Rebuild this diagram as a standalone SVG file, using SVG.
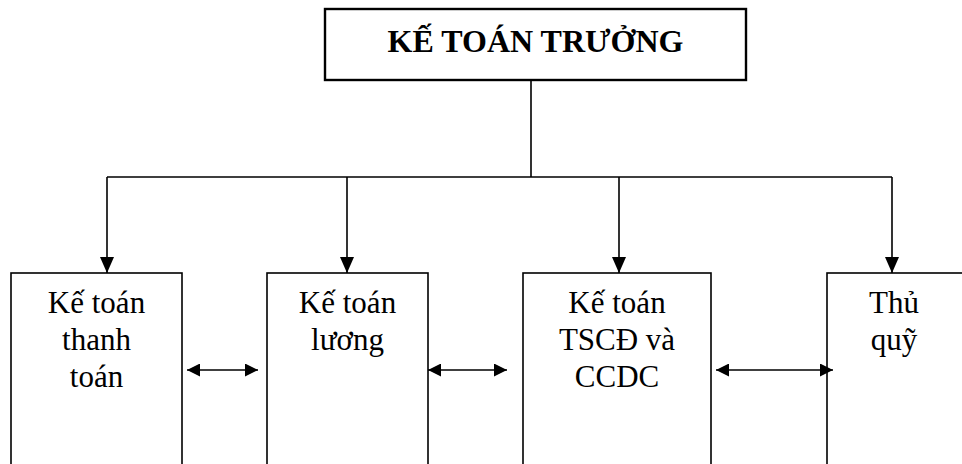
<svg xmlns="http://www.w3.org/2000/svg" width="962" height="464" viewBox="0 0 962 464">
  <style>
    .box { fill: #fff; stroke: #000; stroke-width: 1.6; }
    .head { fill: #fff; stroke: #000; stroke-width: 2.4; }
    .wire { fill: none; stroke: #000; stroke-width: 1.6; }
    .lbl { font-family: 'Liberation Serif', 'Times New Roman', Tinos, 'DejaVu Serif', serif; font-size: 31px; fill: #000; text-anchor: middle; }
    .title { font-weight: bold; font-size: 32px; }
  </style>
  <defs>
    <!-- arrowhead for the drops from the chief box -->
    <marker id="down" markerUnits="userSpaceOnUse" viewBox="0 0 16 14" markerWidth="16" markerHeight="14" refX="16" refY="7" orient="auto">
      <path d="M0,0 L16,7 L0,14 Z" fill="#000"/>
    </marker>
    <!-- arrowhead for the two-way links between staff boxes -->
    <marker id="side" markerUnits="userSpaceOnUse" viewBox="0 0 13 13" markerWidth="13" markerHeight="13" refX="13" refY="6.5" orient="auto-start-reverse">
      <path d="M0,0 L13,6.5 L0,13 Z" fill="#000"/>
    </marker>
  </defs>

  <g id="ke-toan-truong">
    <rect class="head" x="325" y="9" width="421" height="71"/>
    <text class="lbl title" x="535.5" y="52">KẾ TOÁN TRƯỞNG</text>
  </g>

  <g id="ke-toan-thanh-toan">
    <rect class="box" x="11" y="273" width="171" height="200"/>
    <text class="lbl" x="96.5" y="313">Kế toán</text>
    <text class="lbl" x="96.5" y="350">thanh</text>
    <text class="lbl" x="96.5" y="387">toán</text>
  </g>

  <g id="ke-toan-luong">
    <rect class="box" x="267" y="273" width="161" height="200"/>
    <text class="lbl" x="347.5" y="313">Kế toán</text>
    <text class="lbl" x="347.5" y="350">lương</text>
  </g>

  <g id="ke-toan-tscd">
    <rect class="box" x="523" y="273" width="188" height="200"/>
    <text class="lbl" x="617" y="313">Kế toán</text>
    <text class="lbl" x="617" y="350">TSCĐ và</text>
    <text class="lbl" x="617" y="387">CCDC</text>
  </g>

  <g id="thu-quy">
    <rect class="box" x="827" y="273" width="160" height="200"/>
    <text class="lbl" x="894" y="313">Thủ</text>
    <text class="lbl" x="894" y="350">quỹ</text>
  </g>

  <g id="connectors">
    <path class="wire" d="M531,80 V177 M107,177 H892"/>
    <path class="wire" d="M107,177 V273" marker-end="url(#down)"/>
    <path class="wire" d="M347,177 V273" marker-end="url(#down)"/>
    <path class="wire" d="M619,177 V273" marker-end="url(#down)"/>
    <path class="wire" d="M892,177 V273" marker-end="url(#down)"/>
    <path class="wire" d="M187,370 H258" marker-start="url(#side)" marker-end="url(#side)"/>
    <path class="wire" d="M428,370 H507" marker-start="url(#side)" marker-end="url(#side)"/>
    <path class="wire" d="M716,370 H833" marker-start="url(#side)" marker-end="url(#side)"/>
  </g>
</svg>
